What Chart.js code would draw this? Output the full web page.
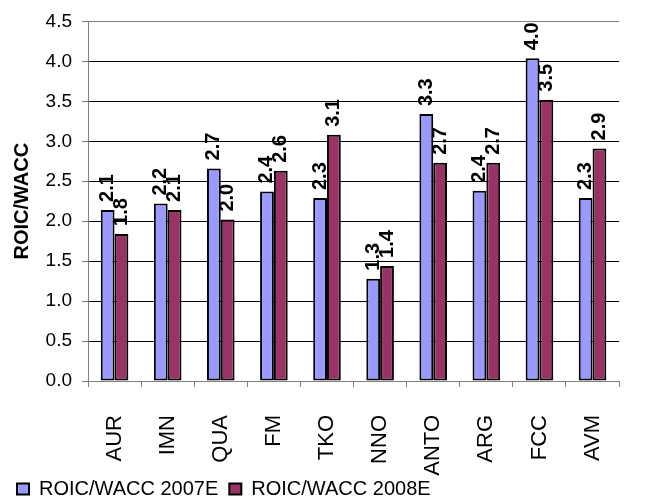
<!DOCTYPE html>
<html>
<head>
<meta charset="utf-8">
<title>ROIC/WACC</title>
<script src="https://cdn.jsdelivr.net/npm/chart.js@4.4.1/dist/chart.umd.min.js"></script>
<style>
    html, body { margin: 0; padding: 0; background: #fff; }
    #wrap { width: 647px; height: 500px; position: relative; }
</style>
</head>
<body>
<div id="wrap"><canvas id="myChart"></canvas></div>
<script>
// tickers and ROIC/WACC ratios per year
const categories = ['AUR', 'IMN', 'QUA', 'FM', 'TKO', 'NNO', 'ANTO', 'ARG', 'FCC', 'AVM'];
const roicWacc2007 = [2.14, 2.22, 2.66, 2.37, 2.29, 1.28, 3.34, 2.38, 4.04, 2.29];
const roicWacc2008 = [1.84, 2.14, 2.02, 2.63, 3.08, 1.44, 2.73, 2.73, 3.52, 2.91];
const seriesNames = ['ROIC/WACC 2007E', 'ROIC/WACC 2008E'];
const yMin = 0;
const yMax = 4.5;
const yStep = 0.5;

Chart.defaults.font.family = 'Arial, "Liberation Sans", sans-serif';
Chart.defaults.color = '#000';

// value labels written vertically above each bar
const barValueLabels = {
    id: 'barValueLabels',
    afterLayout(chart) {
        // long category names run past the axis box, don't clip them
        chart.scales.x.bottom = chart.height;
    },
    afterDatasetsDraw(chart) {
        const ctx = chart.ctx;
        ctx.save();
        ctx.font = 'bold 20px Arial, "Liberation Sans", sans-serif';
        ctx.fillStyle = '#000';
        ctx.textAlign = 'left';
        ctx.textBaseline = 'middle';
        chart.data.datasets.forEach((ds, i) => {
            const meta = chart.getDatasetMeta(i);
            meta.data.forEach((bar, j) => {
                ctx.save();
                ctx.translate(bar.x, bar.y - 8);
                ctx.rotate(-Math.PI / 2);
                ctx.fillText(ds.data[j].toFixed(1), 0, 0);
                ctx.restore();
            });
        });
        ctx.restore();
    }
};

const ctx = document.getElementById('myChart').getContext('2d');
const myChart = new Chart(ctx, {
    type: 'bar',
    data: {
        labels: categories,
        datasets: [{
            label: seriesNames[0],
            data: roicWacc2007,
            backgroundColor: '#9999FF',
            borderColor: '#000',
            borderWidth: 2,
            borderSkipped: false
        }, {
            label: seriesNames[1],
            data: roicWacc2008,
            backgroundColor: '#993366',
            borderColor: '#000',
            borderWidth: 2,
            borderSkipped: false
        }]
    },
    options: {
        responsive: true,
        maintainAspectRatio: false,
        animation: false,
        layout: {
            padding: { top: 20, right: 1, bottom: -9, left: 6 }
        },
        datasets: {
            bar: {
                categoryPercentage: 0.52,
                barPercentage: 1.0
            }
        },
        plugins: {
            tooltip: { enabled: false },
            legend: {
                position: 'bottom',
                align: 'start',
                labels: {
                    boxWidth: 12,
                    boxHeight: 11,
                    padding: 11,
                    color: '#000',
                    font: { size: 20 }
                }
            }
        },
        scales: {
            x: {
                grid: {
                    display: true,
                    drawOnChartArea: false,
                    offset: true,
                    tickLength: 6,
                    tickColor: '#808080'
                },
                border: { color: '#808080' },
                ticks: {
                    minRotation: 90,
                    maxRotation: 90,
                    padding: 28,
                    font: { size: 22 }
                },
                afterFit(scale) {
                    scale.height = 87;
                }
            },
            y: {
                min: yMin,
                max: yMax,
                title: {
                    display: true,
                    text: 'ROIC/WACC',
                    font: { size: 20, weight: 'bold' },
                    padding: { top: 4, bottom: 4 }
                },
                grid: {
                    color: c => (c.tick && c.tick.value === yMax) ? '#808080' : '#000',
                    tickColor: '#808080',
                    tickLength: 6
                },
                border: { color: '#808080' },
                ticks: {
                    stepSize: yStep,
                    padding: 10,
                    font: { size: 19 },
                    callback: v => v.toFixed(1)
                },
                afterFit(scale) {
                    scale.width = 82;
                }
            }
        }
    },
    plugins: [barValueLabels]
});
</script>
</body>
</html>
